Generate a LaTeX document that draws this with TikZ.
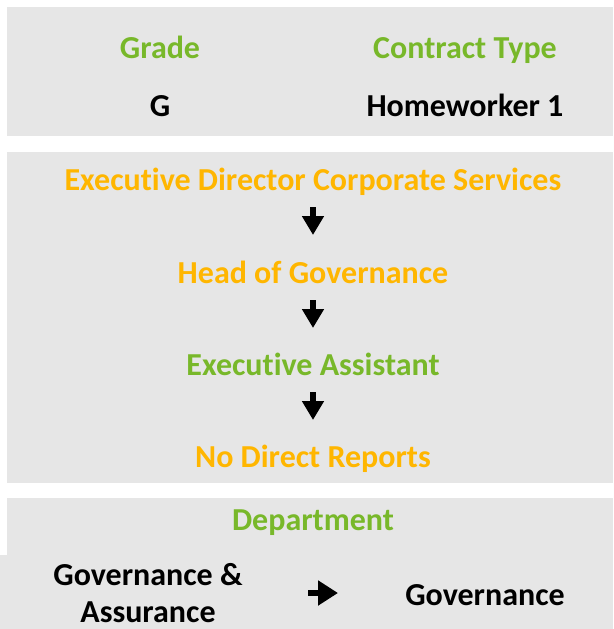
\documentclass[tikz,border=0pt]{standalone}
\usepackage{fontspec}
\setmainfont{Carlito}[Ligatures=NoCommon]
\usetikzlibrary{positioning, arrows.meta}
\definecolor{clrpanel}{HTML}{E6E6E6}
\definecolor{clrgreen}{HTML}{78B82A}
\definecolor{clramber}{HTML}{FFB600}
\definecolor{clrtext}{HTML}{000000}

\begin{document}
\begin{tikzpicture}[
    x=1pt, y=-1pt,
    every node/.style={font=\bfseries\fontsize{32}{37}\selectfont, inner sep=0pt, anchor=base},
    panel/.style={fill=clrpanel},
    heading/.style={text=clrgreen},
    rolegold/.style={text=clramber},
    rolegreen/.style={text=clrgreen},
    value/.style={text=clrtext},
    flowarrow/.style={-{Triangle[width=21pt, length=19pt]}, line width=6pt, color=clrtext},
]
\useasboundingbox (0,0) rectangle (613,629);
\fill[panel] (7,7) rectangle (613,136);
\fill[panel] (7,152) rectangle (613,483);
\fill[panel] (7,498) rectangle (613,556);
\fill[panel] (0,555) rectangle (613,629);
\node[heading] (n_grade) at (160,58) {Grade};
\node[heading] (n_contract) at (465,58) {Contract Type};
\node[value] (n_grade_val) at (160,116) {G};
\node[value] (n_contract_val) at (465,116) {Homeworker 1};
\node[rolegold] (n_1) at (313,190) {Executive Director Corporate Services};
\node[rolegold] (n_2) at (313,283) {Head of Governance};
\node[rolegreen] (n_3) at (313,375) {Executive Assistant};
\node[rolegold] (n_4) at (313,467) {No Direct Reports};
\node[heading] (n_dept) at (313,530) {Department};
\node[value, align=center] (n_dept_old) at (148,622) {Governance \&\\Assurance};
\node[value] (n_dept_new) at (485,605) {Governance};
\draw[flowarrow] ([yshift=-17pt]n_1.base) -- ([yshift=48pt]n_2.base);
\draw[flowarrow] ([yshift=-17pt]n_2.base) -- ([yshift=47pt]n_3.base);
\draw[flowarrow] ([yshift=-17pt]n_3.base) -- ([yshift=47pt]n_4.base);
\draw[flowarrow, -{Triangle[width=24pt, length=20pt]}] ([xshift=160pt, yshift=29pt]n_dept_old.base) -- ([xshift=-147pt, yshift=12pt]n_dept_new.base);
\end{tikzpicture}
\end{document}
